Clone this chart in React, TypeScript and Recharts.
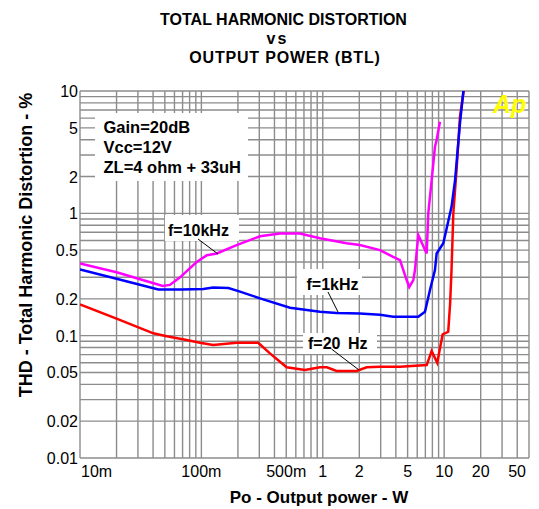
import React from 'react';
import { LineChart, Line, XAxis, YAxis, ReferenceLine } from 'recharts';

// axis ticks
const xTicks = [0.01, 0.1, 0.5, 1, 2, 5, 10, 20, 50];
const xTickLabels = ['10m', '100m', '500m', '1', '2', '5', '10', '20', '50'];
const yTicks = [0.01, 0.02, 0.05, 0.1, 0.2, 0.5, 1, 2, 5, 10];
const yTickLabels = ['0.01', '0.02', '0.05', '0.1', '0.2', '0.5', '1', '2', '5', '10'];

// log grid
const gridX = [
  0.01, 0.02, 0.03, 0.04, 0.05, 0.06, 0.07, 0.08, 0.09,
  0.1, 0.2, 0.3, 0.4, 0.5, 0.6, 0.7, 0.8, 0.9,
  1, 2, 3, 4, 5, 6, 7, 8, 9,
  10, 20, 30, 40, 50,
];
const gridY = [
  0.01, 0.02, 0.03, 0.04, 0.05, 0.06, 0.07, 0.08, 0.09,
  0.1, 0.2, 0.3, 0.4, 0.5, 0.6, 0.7, 0.8, 0.9,
  1, 2, 3, 4, 5, 6, 7, 8, 9, 10,
];

// f = 10 kHz (magenta)
const power10k = [0.01, 0.02, 0.035, 0.048, 0.055, 0.0667, 0.0914, 0.111, 0.134, 0.195, 0.304, 0.443, 0.648, 0.948, 1.57, 2.02, 2.96, 3.8, 4.33, 4.91, 5.16, 5.57, 5.75, 6.12, 7.18, 7.4, 7.89, 8.4, 8.67, 9.23];
const thd10k = [0.39, 0.33, 0.28, 0.255, 0.26, 0.3, 0.4, 0.455, 0.47, 0.55, 0.65, 0.685, 0.685, 0.625, 0.57, 0.55, 0.5, 0.44, 0.415, 0.285, 0.25, 0.285, 0.344, 0.665, 0.47, 1.0, 1.87, 3.5, 3.97, 5.6];

// f = 1 kHz (blue)
const power1k = [0.01, 0.02, 0.0442, 0.0688, 0.1037, 0.125, 0.167, 0.208, 0.304, 0.537, 0.948, 1.3, 2.02, 2.96, 3.81, 6.12, 6.95, 7.64, 8.4, 8.67, 9.84, 11.5, 12.3, 12.7, 13.5, 14.4, 15];
const thd1k = [0.348, 0.292, 0.239, 0.239, 0.241, 0.248, 0.245, 0.229, 0.202, 0.169, 0.157, 0.153, 0.152, 0.148, 0.143, 0.143, 0.157, 0.236, 0.344, 0.47, 0.57, 1.13, 1.87, 2.7, 5.45, 10, 12];

// f = 20 Hz (red)
const power20 = [0.01, 0.02, 0.0402, 0.0518, 0.0757, 0.0973, 0.125, 0.195, 0.294, 0.367, 0.504, 0.713, 0.948, 1.08, 1.3, 1.9, 2.3, 2.96, 4.33, 7.18, 7.89, 8.77, 9.72, 10.8, 11.2, 11.5, 11.9, 12.7, 13.5, 14.4, 15];
const thd20 = [0.18, 0.138, 0.1045, 0.099, 0.092, 0.0875, 0.0838, 0.0875, 0.0875, 0.0716, 0.0551, 0.0523, 0.0551, 0.0551, 0.0514, 0.0514, 0.0551, 0.0557, 0.0557, 0.0575, 0.0748, 0.06, 0.1025, 0.1076, 0.184, 0.344, 1.0, 2.4, 6.16, 9.6, 12];

const toData = (p: number[], t: number[]) => p.map((v, i) => ({ p: v, thd: t[i] }));

const FONT = '"Liberation Sans", Arial, sans-serif';

const XTick = ({ x, y, payload }: any) => {
  const i = xTicks.indexOf(payload.value);
  let anchor: 'start' | 'middle' | 'end' = 'middle';
  let dx = 0;
  if (i === 0) { anchor = 'start'; dx = 1; }
  if (i === xTicks.length - 1) { anchor = 'end'; dx = -3; }
  return (
    <text x={x + dx} y={y + 19} textAnchor={anchor} fontSize={16} fontFamily={FONT} fill="#000">
      {xTickLabels[i]}
    </text>
  );
};

const YTick = ({ x, y, payload }: any) => {
  const i = yTicks.indexOf(payload.value);
  return (
    <text x={x} y={y + 6} textAnchor="end" fontSize={16} fontFamily={FONT} fill="#000">
      {yTickLabels[i]}
    </text>
  );
};

const App = () => {
  return (
    <div style={{ position: 'absolute', left: 0, top: 0, width: 539, height: 509, background: '#fff' }}>
      <LineChart width={539} height={509} margin={{ top: 91, right: 10, left: 0, bottom: 0 }}>
        <XAxis
          dataKey="p"
          type="number"
          scale="log"
          domain={[0.01, 50]}
          allowDataOverflow
          ticks={xTicks}
          tick={<XTick />}
          tickLine={false}
          axisLine={false}
          tickSize={0}
          tickMargin={0}
          height={51}
          interval={0}
        />
        <YAxis
          type="number"
          scale="log"
          domain={[0.01, 10]}
          allowDataOverflow
          ticks={yTicks}
          tick={<YTick />}
          tickLine={false}
          axisLine={false}
          tickSize={0}
          tickMargin={2}
          width={80}
          interval={0}
        />
        {gridX.map((v) => (
          <ReferenceLine key={'gx' + v} x={v} stroke="#8c8c8c" strokeWidth={1.4} />
        ))}
        {gridY.map((v) => (
          <ReferenceLine key={'gy' + v} y={v} stroke="#8c8c8c" strokeWidth={1.4} />
        ))}
        <Line data={toData(power20, thd20)} dataKey="thd" stroke="#ff0000" strokeWidth={2.5} dot={false} isAnimationActive={false} />
        <Line data={toData(power1k, thd1k)} dataKey="thd" stroke="#0000ff" strokeWidth={2.5} dot={false} isAnimationActive={false} />
        <Line data={toData(power10k, thd10k)} dataKey="thd" stroke="#ff00ff" strokeWidth={2.5} dot={false} isAnimationActive={false} />
      </LineChart>
      <svg
        width={539}
        height={509}
        style={{ position: 'absolute', left: 0, top: 0, pointerEvents: 'none' }}
        fontFamily={FONT}
        fontWeight="bold"
      >
        <text x={283.5} y={25} textAnchor="middle" fontSize={16}>TOTAL HARMONIC DISTORTION</text>
        <text x={277.5} y={44} textAnchor="middle" fontSize={16} letterSpacing={2}>vs</text>
        <text x={285} y={63} textAnchor="middle" fontSize={16} letterSpacing={0.8}>OUTPUT POWER (BTL)</text>

        <text transform="translate(32,245) rotate(-90)" textAnchor="middle" fontSize={18}>
          THD - Total Harmonic Distortion - %
        </text>
        <text x={319} y={503} textAnchor="middle" fontSize={17}>Po - Output power - W</text>

        <rect x={95} y={113} width={153} height={68} fill="#fff" />
        <text x={103.5} y={132.5} fontSize={16.5}>Gain=20dB</text>
        <text x={103.5} y={153} fontSize={16.5}>Vcc=12V</text>
        <text x={103.5} y={173} fontSize={16.5}>ZL=4 ohm + 33uH</text>

        <rect x={165} y={215} width={74} height={26} fill="#fff" />
        <text x={168} y={236} fontSize={16}>f=10kHz</text>
        <line x1={198} y1={239} x2={218} y2={254} stroke="#000" strokeWidth={1} />

        <rect x={297} y={269} width={65} height={26} fill="#fff" />
        <text x={306.5} y={290} fontSize={16}>f=1kHz</text>
        <line x1={328} y1={292} x2={338} y2={312} stroke="#000" strokeWidth={1} />

        <rect x={303} y={333} width={74} height={21} fill="#fff" />
        <text x={308} y={349} fontSize={16} wordSpacing={3}>f=20 Hz</text>
        <line x1={331.5} y1={349} x2={359} y2={370} stroke="#000" strokeWidth={1} />

        <text x={493} y={113} fontSize={25} fontStyle="italic" fill="#ffff00">Ap</text>
      </svg>
    </div>
  );
};

export default App;
